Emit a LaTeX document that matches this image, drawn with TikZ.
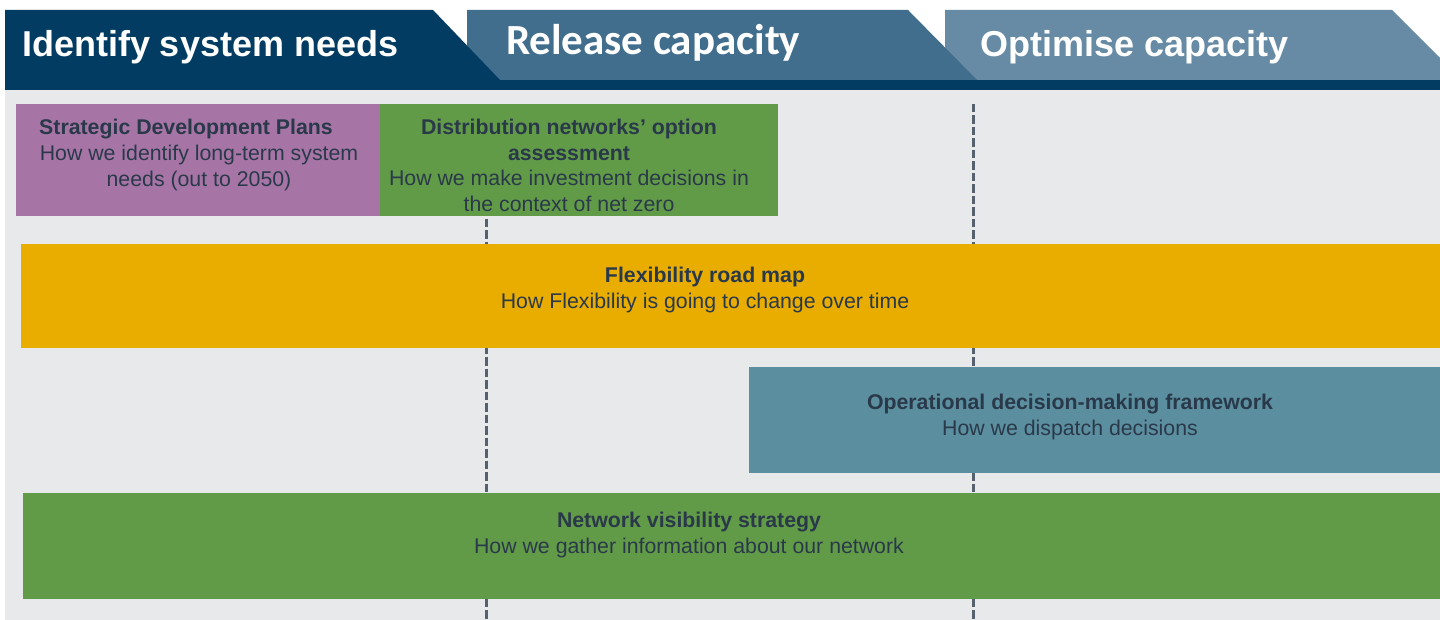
\documentclass[tikz,border=0pt]{standalone}
\usepackage{fontspec}
\setmainfont{Liberation Sans}
\newfontfamily\relfont{Carlito}
\definecolor{navy}{RGB}{2,60,99}
\definecolor{relblue}{RGB}{66,110,142}
\definecolor{optblue}{RGB}{103,139,165}
\definecolor{bggray}{RGB}{232,233,235}
\definecolor{sdppurple}{RGB}{166,117,165}
\definecolor{boxgreen}{RGB}{98,155,72}
\definecolor{flexgold}{RGB}{233,173,0}
\definecolor{opteal}{RGB}{91,142,158}
\definecolor{txtdark}{RGB}{42,57,74}
\definecolor{dashgray}{RGB}{85,97,110}
\tikzset{
  boxnode/.style={draw=none, inner sep=0pt, outer sep=0pt, anchor=north west},
  txtnode/.style={inner sep=0pt, outer sep=0pt, anchor=base, align=center, text=txtdark,
    font=\fontsize{21.3pt}{25.6pt}\selectfont},
  hdrnode/.style={inner sep=0pt, outer sep=0pt, anchor=base west, text=white,
    font=\bfseries\fontsize{36pt}{40pt}\selectfont},
  dashline/.style={draw=dashgray, line width=3pt, dash pattern=on 8.5pt off 3pt}
}
\begin{document}
\begin{tikzpicture}[x=1pt,y=-1pt]
\useasboundingbox (0,0) rectangle (1440,620);
\clip (0,0) rectangle (1440,620);
\fill[white] (0,0) rectangle (1440,620);
% background panel
\fill[bggray] (5,90) rectangle (1440,620);
% dashed phase dividers
\coordinate (d1top) at (486,104);
\coordinate (d1bot) at (486,620);
\coordinate (d2top) at (973,104);
\coordinate (d2bot) at (973,620);
\draw[dashline] (d1top) -- (d1bot);
\draw[dashline] (d2top) -- (d2bot);
% header chevrons
\fill[optblue] (945,10) -- (1392,10) -- (1462,80) -- (945,80) -- cycle;
\fill[relblue] (467,10) -- (908,10) -- (977,80) -- (467,80) -- cycle;
\fill[navy] (5,10) -- (433,10) -- (500,80) -- (5,80) -- cycle;
\fill[navy] (5,80) rectangle (1440,90);
\node[hdrnode] (h1) at (22,57) {Identify system needs};
\node[hdrnode, font=\relfont\bfseries\fontsize{43pt}{46pt}\selectfont] (h2) at (506,55) {Release capacity};
\node[hdrnode] (h3) at (980,57) {Optimise capacity};
% boxes
\node[boxnode, fill=sdppurple, minimum width=364pt, minimum height=112pt] (sdp) at (16,104) {};
\node[boxnode, fill=boxgreen, minimum width=398pt, minimum height=112pt] (dno) at (380,104) {};
\node[boxnode, fill=flexgold, minimum width=1419pt, minimum height=104pt] (flex) at (21,244) {};
\node[boxnode, fill=opteal, minimum width=691pt, minimum height=106pt] (odm) at (749,367) {};
\node[boxnode, fill=boxgreen, minimum width=1417pt, minimum height=106pt] (nvs) at (23,493) {};
% texts (anchored at the baseline of their last line)
\node[txtnode] (sdpT) at (199,186.2) {{\bfseries Strategic Development Plans}\hspace*{26pt}\\How we identify long-term system\\needs (out to 2050)};
\node[txtnode] (dnoT) at (569,211.6) {{\bfseries Distribution networks’ option}\\{\bfseries assessment}\\How we make investment decisions in\\the context of net zero};
\node[txtnode] (flexT) at (705,308.2) {{\bfseries Flexibility road map}\\How Flexibility is going to change over time};
\node[txtnode] (odmT) at (1070,435) {{\bfseries Operational decision-making framework}\\How we dispatch decisions};
\node[txtnode] (nvsT) at (689,553) {{\bfseries Network visibility strategy}\\How we gather information about our network};
\end{tikzpicture}
\end{document}
